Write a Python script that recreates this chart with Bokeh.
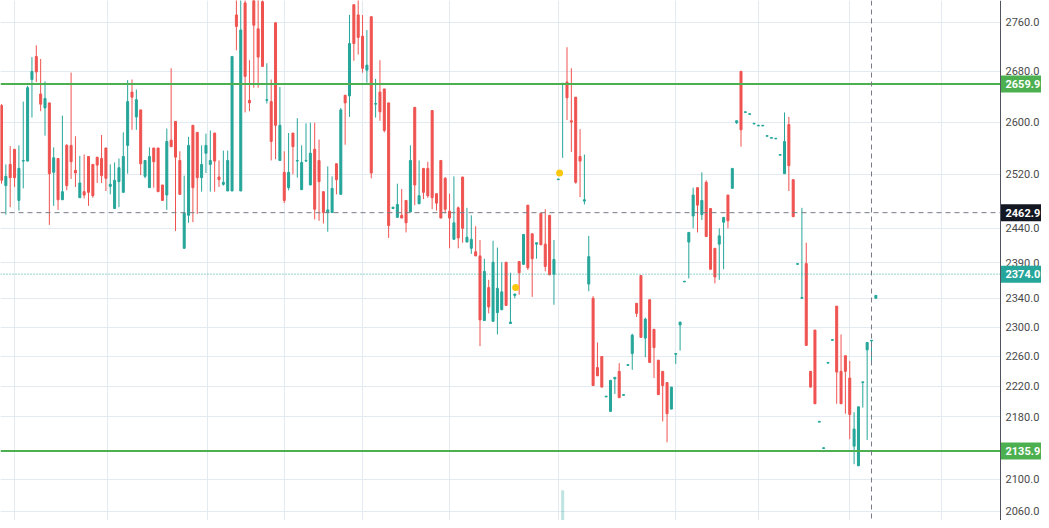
from bokeh.plotting import figure
from bokeh.models import (Range1d, FixedTicker, Span, Grid, LinearScale,
                          ColumnDataSource, BoxAnnotation)
from bokeh.core.properties import value
from bokeh.embed import file_html
from bokeh.resources import INLINE

# ---------------- data ----------------
opens = [
    2626, 2503, 2535, 2558, 2481, 2540, 2540, 2667, 2704, 2644,
    2622, 2630, 2523, 2544, 2482, 2564, 2564, 2526, 2485, 2494,
    2547, 2535, 2546, 2544, 2560, 2502, 2469, 2509, 2493, 2564,
    2647, 2608, 2619, 2517, 2500, 2560, 2560, 2504, 2489, 2572,
    2601, 2541, 2411, 2459, 2595, 2584, 2515, 2552, 2535, 2583,
    2516, 2505, 2495, 2495, 2772, 2495, 2792, 2634, 2800, 2749,
    2794, 2634, 2632, 2759, 2541, 2523, 2500, 2583, 2540, 2497,
    2540, 2504, 2558, 2541, 2494, 2463, 2463, 2536, 2490, 2642,
    2641, 2789, 2772, 2737, 2682, 2769, 2628, 2647, 2652, 2630,
    2469, 2456, 2459, 2481, 2464, 2623, 2476, 2529, 2529, 2618,
    2491, 2541, 2514, 2465, 2424, 2470, 2516, 2420, 2411, 2406,
    2400, 2309, 2355, 2308, 2320, 2324, 2391, 2305, 2344, 2392,
    2388, 2474, 2432, 2417, 2462, 2417, 2459, 2374, 2512, 2659,
    2663, 2602, 2639, 2547, 2480, 2360, 2340, 2245, 2260, 2206,
    2187, 2230, 2240, 2208, 2248, 2264, 2333, 2372, 2285, 2338,
    2297, 2255, 2240, 2225, 2190, 2263, 2303, 2363, 2420, 2458,
    2500, 2460, 2508, 2469, 2411, 2417, 2449, 2489, 2499, 2599,
    2680, 2615, 2612, 2597, 2594, 2594, 2578, 2575, 2574, 2549,
    2521, 2596, 2512, 2388, 2340, 2389, 2240, 2296, 2173, 2139,
    2251, 2282, 2329, 2240, 2261, 2231, 2142, 2117, 2225, 2269,
    2281, 2340,
]
highs = [
    2628, 2535, 2563, 2558, 2564, 2632, 2657, 2703, 2722, 2700,
    2664, 2630, 2561, 2544, 2610, 2566, 2678, 2578, 2548, 2550,
    2547, 2535, 2546, 2580, 2560, 2535, 2538, 2544, 2584, 2666,
    2667, 2651, 2619, 2541, 2561, 2560, 2560, 2504, 2590, 2685,
    2601, 2555, 2518, 2577, 2595, 2584, 2564, 2582, 2587, 2583,
    2541, 2556, 2556, 2704, 2800, 2800, 2800, 2698, 2800, 2800,
    2797, 2693, 2667, 2759, 2655, 2555, 2583, 2583, 2606, 2564,
    2598, 2599, 2599, 2573, 2494, 2532, 2517, 2536, 2622, 2642,
    2772, 2789, 2800, 2772, 2747, 2769, 2668, 2698, 2652, 2630,
    2471, 2506, 2498, 2481, 2564, 2623, 2541, 2529, 2539, 2618,
    2491, 2541, 2516, 2491, 2517, 2472, 2516, 2470, 2459, 2443,
    2423, 2396, 2366, 2422, 2412, 2391, 2391, 2376, 2346, 2392,
    2431, 2474, 2432, 2419, 2462, 2468, 2459, 2423, 2513, 2661,
    2719, 2685, 2639, 2589, 2550, 2429, 2343, 2279, 2260, 2207,
    2228, 2232, 2251, 2209, 2249, 2291, 2333, 2372, 2313, 2338,
    2297, 2255, 2240, 2225, 2219, 2264, 2307, 2364, 2434, 2500,
    2500, 2523, 2511, 2469, 2411, 2440, 2456, 2489, 2529, 2602,
    2680, 2616, 2613, 2598, 2595, 2595, 2579, 2576, 2575, 2550,
    2615, 2608, 2512, 2389, 2470, 2419, 2240, 2296, 2174, 2140,
    2252, 2283, 2329, 2290, 2261, 2254, 2186, 2193, 2226, 2279,
    2282, 2344,
]
lows = [
    2506, 2460, 2471, 2501, 2466, 2499, 2540, 2607, 2663, 2617,
    2579, 2445, 2473, 2467, 2482, 2496, 2513, 2501, 2485, 2484,
    2473, 2485, 2507, 2507, 2495, 2490, 2469, 2471, 2493, 2521,
    2588, 2588, 2519, 2514, 2500, 2500, 2494, 2481, 2467, 2562,
    2436, 2490, 2411, 2448, 2449, 2461, 2494, 2522, 2494, 2494,
    2501, 2503, 2495, 2495, 2714, 2495, 2615, 2617, 2654, 2654,
    2688, 2629, 2541, 2543, 2541, 2477, 2496, 2520, 2515, 2497,
    2539, 2504, 2453, 2451, 2447, 2435, 2463, 2490, 2490, 2565,
    2608, 2697, 2707, 2678, 2662, 2514, 2607, 2602, 2584, 2426,
    2469, 2456, 2455, 2434, 2464, 2474, 2476, 2483, 2485, 2468,
    2466, 2455, 2462, 2411, 2424, 2411, 2419, 2420, 2403, 2400,
    2274, 2309, 2319, 2308, 2290, 2324, 2330, 2305, 2340, 2345,
    2388, 2380, 2342, 2396, 2416, 2378, 2373, 2331, 2512, 2545,
    2603, 2554, 2506, 2486, 2475, 2350, 2221, 2234, 2219, 2206,
    2187, 2210, 2205, 2208, 2248, 2242, 2314, 2286, 2259, 2252,
    2231, 2209, 2174, 2147, 2190, 2250, 2268, 2363, 2368, 2440,
    2434, 2452, 2428, 2381, 2361, 2366, 2381, 2440, 2499, 2597,
    2562, 2615, 2612, 2597, 2594, 2594, 2578, 2575, 2574, 2549,
    2521, 2495, 2457, 2388, 2340, 2275, 2219, 2197, 2173, 2139,
    2251, 2282, 2197, 2197, 2184, 2151, 2119, 2117, 2192, 2150,
    2251, 2340,
]
closes = [
    2511, 2517, 2515, 2515, 2529, 2541, 2654, 2680, 2679, 2628,
    2637, 2521, 2545, 2482, 2494, 2503, 2539, 2522, 2507, 2489,
    2493, 2488, 2534, 2518, 2514, 2505, 2511, 2530, 2547, 2632,
    2639, 2635, 2536, 2541, 2547, 2539, 2494, 2481, 2570, 2562,
    2546, 2490, 2462, 2564, 2500, 2515, 2535, 2564, 2541, 2540,
    2512, 2508, 2541, 2704, 2753, 2747, 2672, 2630, 2755, 2703,
    2688, 2635, 2570, 2595, 2595, 2481, 2523, 2562, 2541, 2538,
    2541, 2552, 2468, 2509, 2463, 2467, 2499, 2512, 2619, 2630,
    2725, 2725, 2735, 2685, 2690, 2522, 2629, 2616, 2587, 2444,
    2471, 2475, 2455, 2448, 2541, 2504, 2488, 2493, 2488, 2485,
    2477, 2455, 2468, 2455, 2448, 2426, 2440, 2427, 2424, 2400,
    2310, 2378, 2328, 2391, 2354, 2349, 2330, 2307, 2346, 2376,
    2431, 2383, 2396, 2419, 2416, 2385, 2373, 2395, 2513, 2661,
    2638, 2600, 2508, 2540, 2482, 2399, 2221, 2234, 2219, 2207,
    2228, 2232, 2205, 2209, 2249, 2289, 2319, 2286, 2311, 2252,
    2272, 2209, 2221, 2184, 2219, 2264, 2307, 2364, 2434, 2489,
    2474, 2481, 2428, 2381, 2370, 2429, 2456, 2451, 2529, 2602,
    2588, 2616, 2613, 2598, 2595, 2595, 2579, 2576, 2575, 2550,
    2570, 2533, 2457, 2389, 2341, 2275, 2219, 2197, 2174, 2140,
    2252, 2283, 2239, 2197, 2240, 2183, 2164, 2193, 2226, 2279,
    2282, 2344,
]
bar_index = list(range(len(opens)))

y_ticks = [2060, 2100, 2180, 2220, 2260, 2300, 2340, 2390, 2440, 2520, 2600, 2680, 2760]
session_breaks = [3.06, 24.3, 47.3, 65.1, 83.06, 103.06, 128.1, 155.0, 174.1, 195.0, 216.2]

level_lines = [2659.9, 2135.9]
crosshair_price = 2462.9
last_price = 2374.0
crosshair_bar = 200

event_index = [118.2, 128.3]
event_price = [2355, 2522]

volume_index = [129]
volume_value = [5.8]

# ---------------- layout / styling ----------------
UP = "#26a69a"
DOWN = "#ef5350"
GREEN = "#4caf50"
GRID = "#e3eaf1"
W, H = 1041, 520
PX_PER_BAR = 4.35
PX0 = 1.0                       # pixel of bar 0


def px_to_bar(px):
    return (px - PX0) / PX_PER_BAR


AXIS_X = px_to_bar(1000)        # price-scale border
LABEL_X = px_to_bar(1005)       # start of price-scale texts
TAG_CX = px_to_bar(1021)

p = figure(width=W, height=H, output_backend="svg", toolbar_location=None,
           y_axis_type="log", y_axis_location=None, x_axis_location=None,
           x_range=Range1d(px_to_bar(0), px_to_bar(W)),
           y_range=Range1d(2048.9, 2796.0),
           min_border_left=0, min_border_top=0, min_border_bottom=0, min_border_right=0)
p.outline_line_color = None
p.background_fill_color = "white"
p.border_fill_color = "white"
p.grid.visible = False

p.add_layout(Grid(dimension=1, ticker=FixedTicker(ticks=y_ticks), grid_line_color=GRID, grid_line_width=1))
p.add_layout(Grid(dimension=0, ticker=FixedTicker(ticks=session_breaks), grid_line_color=GRID, grid_line_width=1))

# volume
p.extra_y_ranges = {"vol": Range1d(0, 100)}
p.extra_y_scales = {"vol": LinearScale()}
p.vbar(x=volume_index, top=volume_value, bottom=0, width=0.69, y_range_name="vol",
       fill_color=UP, fill_alpha=0.3, line_color=None)

colors = [UP if c >= o else DOWN for o, c in zip(opens, closes)]
src = ColumnDataSource(dict(
    x=bar_index, h=highs, l=lows,
    top=[max(o, c) for o, c in zip(opens, closes)],
    bottom=[min(o, c) for o, c in zip(opens, closes)],
    color=colors))
p.segment(x0="x", y0="l", x1="x", y1="h", source=src, line_color="color", line_width=1)
p.vbar(x="x", width=0.46, top="top", bottom="bottom", source=src,
       fill_color="color", line_color="color", line_width=1)

p.scatter(x=event_index, y=event_price, size=7, fill_color="#f9c80e", line_color=None)

for lvl in level_lines:
    p.add_layout(Span(location=lvl, dimension="width", line_color=GREEN, line_width=2))
p.add_layout(Span(location=crosshair_price, dimension="width", line_color="#787b86",
                  line_dash="5 4", line_width=1))
p.add_layout(Span(location=last_price, dimension="width", line_color=UP,
                  line_dash="1 2", line_width=1))
p.add_layout(Span(location=crosshair_bar, dimension="height", line_color="#787b86",
                  line_dash="5 4", line_width=1))

# price scale (drawn inside the canvas)
p.add_layout(BoxAnnotation(left=AXIS_X, fill_color="white", fill_alpha=1.0, line_color=None))
p.add_layout(Span(location=AXIS_X, dimension="height", line_color="#50535e", line_width=1))

p.text(x=[LABEL_X] * len(y_ticks), y=y_ticks, text=["%.1f" % t for t in y_ticks],
       text_font=value("Roboto"), text_font_size=value("11px"), text_color="#4a4a4a",
       text_baseline="middle", text_align="left", level="overlay")

tag_values = [level_lines[0], crosshair_price, last_price, level_lines[1]]
tag_colors = [GREEN, "#131722", UP, GREEN]
p.rect(x=[TAG_CX] * 4, y=tag_values, width=41, height=17, width_units="screen",
       height_units="screen", fill_color=tag_colors, line_color=None, level="overlay")
p.text(x=[LABEL_X] * 4, y=tag_values, text=["%.1f" % v for v in tag_values],
       text_font=value("Roboto"), text_font_size=value("11px"), text_font_style="bold",
       text_color="white", text_baseline="middle", text_align="left", level="overlay")

open("out.html", "w").write(file_html(p, INLINE))
